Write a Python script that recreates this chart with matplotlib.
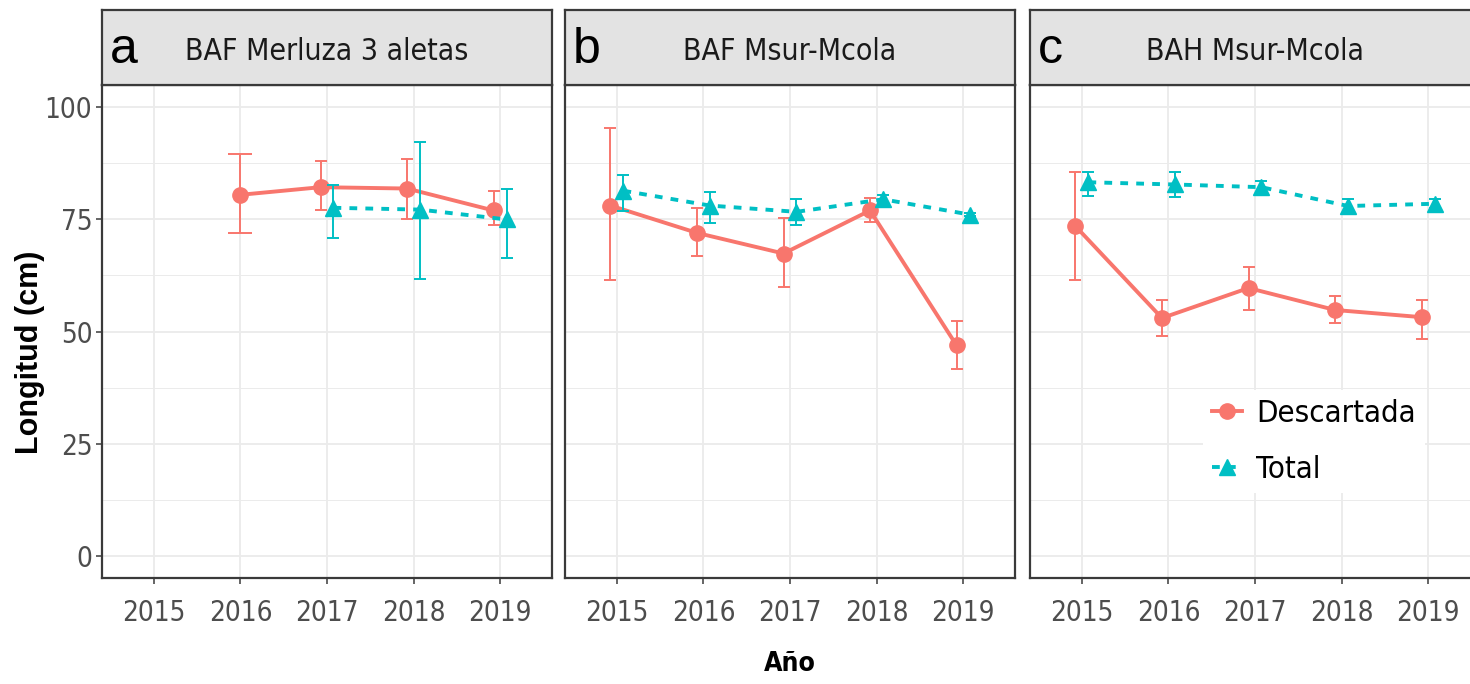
import numpy as np
import matplotlib
matplotlib.use("Agg")
import matplotlib.pyplot as plt
import matplotlib.font_manager as fm
from matplotlib.lines import Line2D

# choose the narrowest sans family available; sizes below are given for a
# narrow face and scaled for wider ones
_fonts = fm.fontManager.ttflist
_names = {f.name for f in _fonts}
if "Liberation Sans Narrow" in _names:
    FAM, STRETCH, SC = "Liberation Sans Narrow", "normal", 1.0
elif any(f.name == "DejaVu Sans" and str(f.stretch) == "condensed" for f in _fonts):
    FAM, STRETCH, SC = "DejaVu Sans", "condensed", 0.80
else:
    FAM, STRETCH, SC = "Liberation Sans", "normal", 0.82
plt.rcParams["font.family"] = [FAM, "DejaVu Sans"]
plt.rcParams["font.stretch"] = STRETCH


def fs(size):
    return size * SC


years = [2015, 2016, 2017, 2018, 2019]
series_names = ["Descartada", "Total"]
panel_letters = ["a", "b", "c"]
panel_titles = ["BAF Merluza 3 aletas", "BAF Msur-Mcola", "BAH Msur-Mcola"]
nan = np.nan

# mean length and interval bounds per panel, per series
a_desc = [nan, 80.5, 82.2, 81.9, 77.0]
a_desc_lo = [nan, 72.0, 77.2, 75.0, 73.7]
a_desc_hi = [nan, 89.7, 88.0, 88.5, 81.3]
a_tot = [nan, nan, 77.6, 77.2, 75.0]
a_tot_lo = [nan, nan, 70.8, 61.7, 66.3]
a_tot_hi = [nan, nan, 82.7, 92.2, 81.8]

b_desc = [78.1, 72.0, 67.4, 77.0, 46.9]
b_desc_lo = [61.6, 66.8, 60.0, 74.4, 41.7]
b_desc_hi = [95.3, 77.6, 75.4, 79.7, 52.3]
b_tot = [81.4, 78.1, 76.7, 79.5, 76.1]
b_tot_lo = [76.9, 74.3, 73.7, 78.6, 75.7]
b_tot_hi = [85.0, 81.1, 79.5, 80.4, 76.5]

c_desc = [73.5, 53.0, 59.7, 54.8, 53.2]
c_desc_lo = [61.6, 49.0, 54.9, 51.8, 48.4]
c_desc_hi = [85.6, 57.1, 64.4, 57.9, 57.1]
c_tot = [83.3, 82.8, 82.2, 78.0, 78.5]
c_tot_lo = [80.2, 80.0, 81.0, 76.5, 77.5]
c_tot_hi = [85.5, 85.5, 83.5, 79.5, 79.5]

panels = [
    ((a_desc, a_desc_lo, a_desc_hi), (a_tot, a_tot_lo, a_tot_hi)),
    ((b_desc, b_desc_lo, b_desc_hi), (b_tot, b_tot_lo, b_tot_hi)),
    ((c_desc, c_desc_lo, c_desc_hi), (c_tot, c_tot_lo, c_tot_hi)),
]

RED = "#F8766D"
TEAL = "#00BFC4"
colors = [RED, TEAL]
markers = ["o", "^"]
msizes = [11, 12]
DOTTED = (0, (2.0, 2.1))
styles = ["-", DOTTED]
LW = 2.8
DARK = "#3A3A3A"
GRID = "#EBEBEB"

W, H = 1470, 684
fig = plt.figure(figsize=(W / 100, H / 100), dpi=100)

# panel pixel extents (left, right) and vertical extents
panel_x = [(102, 552), (565, 1015), (1030, 1480)]
plot_top, plot_bot = 85, 578
strip_top = 10

dodge = 0.075
yrs = np.array(years, dtype=float)

for i, ((x0, x1), data) in enumerate(zip(panel_x, panels)):
    ax = fig.add_axes([x0 / W, 1 - plot_bot / H, (x1 - x0) / W, (plot_bot - plot_top) / H])
    ax.set_xlim(2014.4, 2019.6)
    ax.set_ylim(-5, 105)
    ax.set_facecolor("white")

    # gridlines
    for v in [12.5, 37.5, 62.5, 87.5]:
        ax.axhline(v, color=GRID, lw=0.7, zorder=0)
    for v in [0, 25, 50, 75, 100]:
        ax.axhline(v, color=GRID, lw=1.3, zorder=0)
    for v in years:
        ax.axvline(v, color=GRID, lw=1.3, zorder=0)

    present = [np.isfinite(np.array(s[0], dtype=float)) for s in data]
    both = present[0] & present[1]

    for k, (vals, lo, hi) in enumerate(data):
        vals = np.array(vals, dtype=float)
        lo = np.array(lo, dtype=float)
        hi = np.array(hi, dtype=float)
        sign = -1 if k == 0 else 1
        xs = yrs + np.where(both, sign * dodge, 0.0)
        m = np.isfinite(vals)
        ax.plot(xs[m], vals[m], color=colors[k], lw=LW, linestyle=styles[k],
                zorder=3 + k, solid_capstyle="butt")
        for xx, v, l, h, solo in zip(xs[m], vals[m], lo[m], hi[m], ~both[m]):
            ax.errorbar([xx], [v], yerr=[[v - l], [h - v]], fmt="none",
                        ecolor=colors[k], elinewidth=1.4,
                        capsize=8.5 if solo else 4.5, capthick=1.4, zorder=3 + k)
        ax.plot(xs[m], vals[m], linestyle="none", marker=markers[k],
                markersize=msizes[k], color=colors[k], zorder=4 + k)

    for sp in ax.spines.values():
        sp.set_color(DARK)
        sp.set_linewidth(1.6)

    ax.set_xticks(years)
    ax.set_xticklabels([str(y) for y in years])
    ax.set_yticks([0, 25, 50, 75, 100])
    ax.tick_params(axis="both", colors=DARK, length=4, width=1.1,
                   labelsize=fs(25), labelcolor="#4D4D4D")
    ax.tick_params(axis="x", pad=11)
    ax.tick_params(axis="y", pad=3)
    if i > 0:
        ax.tick_params(axis="y", left=False, labelleft=False)

    # strip header
    sax = fig.add_axes([x0 / W, 1 - plot_top / H, (x1 - x0) / W, (plot_top - strip_top) / H])
    sax.set_facecolor("#E3E3E3")
    sax.set_xticks([])
    sax.set_yticks([])
    for sp in sax.spines.values():
        sp.set_color(DARK)
        sp.set_linewidth(1.6)
    sax.text(0.018, 0.47, panel_letters[i], transform=sax.transAxes,
             fontsize=36, ha="left", va="center", color="black",
             family=["Liberation Sans", "DejaVu Sans"], stretch="normal")
    sax.text(0.5, 0.45, panel_titles[i], transform=sax.transAxes,
             fontsize=fs(27), ha="center", va="center", color="#1A1A1A")

    if i == 2:
        handles = [
            Line2D([], [], color=RED, lw=LW, marker="o", markersize=11),
            Line2D([], [], color=TEAL, lw=LW, linestyle=DOTTED,
                   marker="^", markersize=12),
        ]
        leg = ax.legend(handles, series_names, loc="upper left",
                        bbox_to_anchor=(1203 / W, 1 - 390 / H),
                        bbox_transform=fig.transFigure,
                        prop={"size": fs(28), "family": [FAM, "DejaVu Sans"],
                              "stretch": STRETCH},
                        frameon=True, facecolor="white",
                        edgecolor="none", framealpha=1, handlelength=0.95,
                        handletextpad=0.45, labelspacing=0.85,
                        borderpad=0.3, borderaxespad=0, fancybox=False)
        leg.set_zorder(10)

fig.text(30 / W, 1 - 352 / H, "Longitud (cm)", rotation=90, ha="center",
         va="center", fontsize=22, fontweight="bold",
         family=["Liberation Sans", "DejaVu Sans"], stretch="normal")
fig.text(790 / W, 1 - 664 / H, "Año", ha="center", va="center",
         fontsize=fs(24), fontweight="bold")

fig.savefig("out.png", dpi=100)
